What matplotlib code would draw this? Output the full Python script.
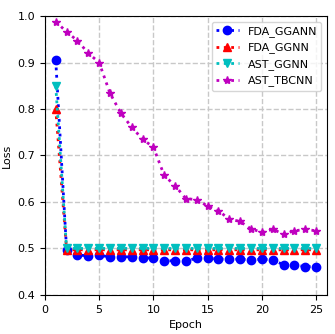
import numpy as np
import matplotlib
matplotlib.use('Agg')
import matplotlib.pyplot as plt

# Loss values per epoch
epochs = list(range(1, 26))
fda_ggann = [0.905, 0.497, 0.486, 0.484, 0.485, 0.482, 0.482, 0.482, 0.480, 0.479,
             0.474, 0.473, 0.473, 0.479, 0.479, 0.477, 0.477, 0.477, 0.475, 0.477,
             0.475, 0.465, 0.464, 0.461, 0.461]
fda_ggnn = [0.800] + [0.497] * 24
ast_ggnn = [0.850] + [0.500] * 24
ast_tbcnn = [0.988, 0.966, 0.947, 0.920, 0.900, 0.834, 0.791, 0.761, 0.735, 0.718,
             0.657, 0.635, 0.607, 0.605, 0.591, 0.581, 0.563, 0.558, 0.542, 0.535,
             0.541, 0.531, 0.538, 0.541, 0.538]

plt.rcParams['font.size'] = 8
fig, ax = plt.subplots(figsize=(3.35, 3.34), dpi=100)
fig.subplots_adjust(left=0.134, right=0.976, top=0.952, bottom=0.117)

ax.plot(epochs, fda_ggann, ':', color='b', marker='o', markersize=6, linewidth=2, label='FDA_GGANN')
ax.plot(epochs, fda_ggnn, ':', color='r', marker='^', markersize=6, linewidth=2, label='FDA_GGNN')
ax.plot(epochs, ast_ggnn, ':', color='c', marker='v', markersize=6, linewidth=2, label='AST_GGNN')
ax.plot(epochs, ast_tbcnn, ':', color='m', marker='*', markersize=6, linewidth=2, label='AST_TBCNN')

ax.set_xlim(0, 26)
ax.set_ylim(0.4, 1.0)
ax.set_xticks([0, 5, 10, 15, 20, 25])
ax.set_xlabel('Epoch')
ax.set_ylabel('Loss')
ax.grid(True, linestyle='--', color='#c8c8c8', linewidth=1)
ax.legend(loc='upper right')

fig.savefig('out.png', dpi=100)
